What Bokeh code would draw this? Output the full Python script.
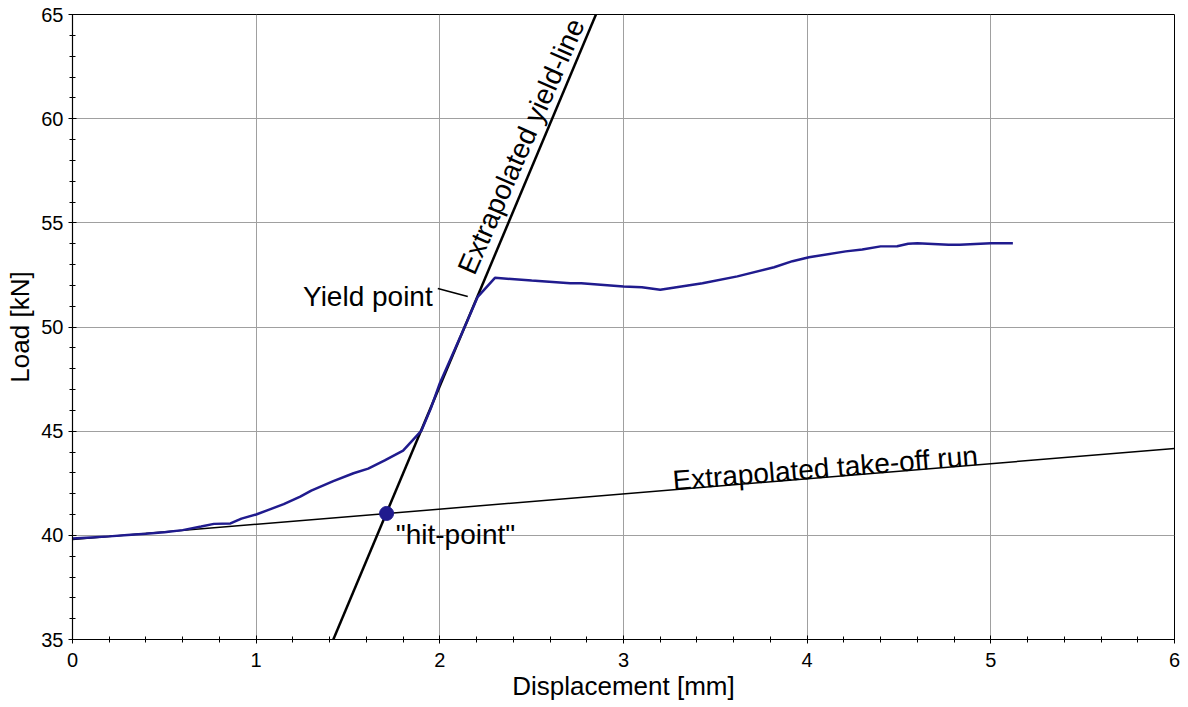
from bokeh.plotting import figure
from bokeh.models import FixedTicker, Range1d
from bokeh.core.properties import value
from bokeh.embed import file_html
from bokeh.resources import INLINE

# ---- data ----
disp = [0.0, 0.1, 0.2, 0.3, 0.4, 0.5, 0.6, 0.7, 0.77, 0.86, 0.92, 1.0, 1.06, 1.15, 1.24,
        1.30, 1.42, 1.53, 1.61, 1.70, 1.80, 1.90, 1.95, 2.0, 2.08, 2.15, 2.205, 2.30, 2.50,
        2.71, 2.77, 3.0, 3.1, 3.2, 3.43, 3.62, 3.82, 3.92, 4.01, 4.21, 4.30, 4.40, 4.49,
        4.55, 4.60, 4.77, 4.83, 5.0, 5.12]
load = [39.85, 39.9, 39.95, 40.02, 40.08, 40.15, 40.25, 40.42, 40.55, 40.57, 40.8, 41.0, 41.2,
        41.5, 41.86, 42.15, 42.6, 42.98, 43.2, 43.6, 44.07, 45.03, 46.07, 47.3, 48.9, 50.3,
        51.43, 52.36, 52.23, 52.10, 52.10, 51.94, 51.91, 51.79, 52.10, 52.43, 52.87, 53.16,
        53.35, 53.63, 53.72, 53.87, 53.88, 54.0, 54.02, 53.95, 53.95, 54.02, 54.02]

yield_line_x = [1.40, 2.88]
yield_line_y = [34.58, 65.63]
takeoff_x = [0.0, 6.0]
takeoff_y = [39.8, 44.17]
hit_x = [1.71]
hit_y = [41.05]

x_ticks = [0, 1, 2, 3, 4, 5, 6]
y_ticks = [35, 40, 45, 50, 55, 60, 65]

# annotation texts and their anchors
note_text = ["Yield point", "\"hit-point\"", "Extrapolated take-off run", "Extrapolated yield-line"]
note_x = [1.255, 1.760, 3.268, 2.142]
note_y = [51.47, 40.04, 42.62, 52.62]
note_angle = [0.0, 0.0, 0.0824, 1.158]
pointer_x0, pointer_y0, pointer_x1, pointer_y1 = [1.989], [51.85], [2.152], [51.46]

FONT = "Liberation Sans"
BLUE = "#201b8e"

p = figure(width=1188, height=707, output_backend="svg", toolbar_location=None,
           x_range=Range1d(0, 6), y_range=Range1d(35, 65),
           min_border_left=72, min_border_right=14, min_border_top=14, min_border_bottom=68)
p.background_fill_color = "white"
p.border_fill_color = "white"
p.outline_line_color = "black"
p.outline_line_width = 1

# axes
p.xaxis.ticker = FixedTicker(ticks=x_ticks, minor_ticks=[i * 0.2 for i in range(31)])
p.yaxis.ticker = FixedTicker(ticks=y_ticks, minor_ticks=list(range(35, 66)))
p.xgrid.ticker = FixedTicker(ticks=x_ticks)
p.ygrid.ticker = FixedTicker(ticks=y_ticks)
for g in (p.xgrid, p.ygrid):
    g.grid_line_color = "#a0a0a0"
    g.grid_line_width = 1

p.xaxis.axis_label = "Displacement [mm]"
p.yaxis.axis_label = "Load [kN]"
for ax in (p.xaxis, p.yaxis):
    ax.axis_line_color = "black"
    ax.axis_line_width = 1.2
    ax.major_tick_line_color = "black"
    ax.minor_tick_line_color = "black"
    ax.major_tick_in = 4
    ax.major_tick_out = 4
    ax.minor_tick_in = 3
    ax.minor_tick_out = 3
    ax.major_label_text_font = FONT
    ax.major_label_text_font_size = "20px"
    ax.major_label_text_color = "black"
    ax.axis_label_text_font = FONT
    ax.axis_label_text_font_size = "26px"
    ax.axis_label_text_font_style = "normal"
    ax.axis_label_text_color = "black"
p.xaxis.major_label_standoff = 9
p.yaxis.major_label_standoff = 5
p.xaxis.axis_label_standoff = 1
p.yaxis.axis_label_standoff = 3

# lines
p.line(takeoff_x, takeoff_y, line_color="black", line_width=1.5)
p.line(yield_line_x, yield_line_y, line_color="black", line_width=2.5)
p.line(disp, load, line_color=BLUE, line_width=2.5)
p.scatter(hit_x, hit_y, size=14, fill_color=BLUE, line_color=BLUE)
p.segment(pointer_x0, pointer_y0, pointer_x1, pointer_y1, line_color="black", line_width=1.5)

p.text(x=note_x, y=note_y, text=note_text, angle=note_angle,
       text_font=value(FONT), text_font_size="28px", text_color="black",
       text_align="left", text_baseline="alphabetic")

open("out.html", "w").write(file_html(p, INLINE))
